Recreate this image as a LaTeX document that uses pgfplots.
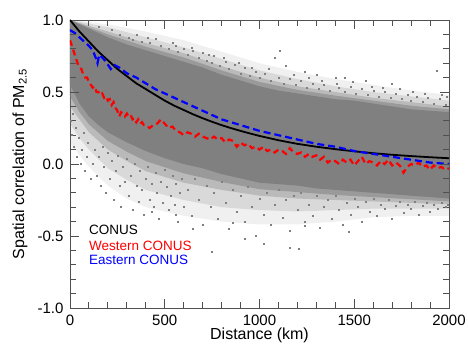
\documentclass[border=0pt]{standalone}
\usepackage{fontspec}
\setmainfont{Liberation Sans}
\usepackage{pgfplots}
\pgfplotsset{compat=1.18}
\definecolor{cloud}{RGB}{128,128,128}
\definecolor{framegray}{RGB}{80,80,80}
\begin{document}
\begin{tikzpicture}
\begin{axis}[
  at={(0,0)}, anchor=south west,
  width=379pt, height=288pt, scale only axis,
  xmin=0, xmax=2000, ymin=-1, ymax=1,
  xtick={0,500,1000,1500,2000},
  ytick={-1,-0.5,0,0.5,1},
  major tick length=0pt,
  axis line style={draw=framegray, line width=0.9pt},
  /pgf/number format/assume math mode=true,
  yticklabel={\pgfmathprintnumber[fixed,fixed zerofill,precision=1]{\tick}},
  xticklabel={\pgfmathprintnumber[fixed,1000 sep={}]{\tick}},
  tick label style={font=\fontsize{15}{17}\selectfont},
  xticklabel style={yshift=-3pt},
  yticklabel style={xshift=-3pt},
  xlabel={Distance (km)},
  ylabel={Spatial correlation of PM\textsubscript{2.5}},
  label style={font=\fontsize{16}{18}\selectfont},
  xlabel style={at={(axis description cs:0.5,-0.094)}, anchor=center},
  ylabel style={at={(axis description cs:-0.132,0.5)}, anchor=center},
]
% outermost sparse band
\addplot[draw=none, fill=cloud, fill opacity=0.12] coordinates {
(0,1.0) (200,0.97) (400,0.92) (600,0.86) (800,0.78) (1000,0.70) (1200,0.64) (1400,0.59) (1600,0.55) (1800,0.51) (2000,0.48)
(2000,-0.36) (1800,-0.36) (1600,-0.37) (1400,-0.40) (1200,-0.42) (1000,-0.42) (800,-0.40) (600,-0.36) (400,-0.30) (300,-0.24) (200,-0.15) (100,-0.02) (50,0.06) (0,0.15)
} -- cycle;
% second band
\addplot[draw=none, fill=cloud, fill opacity=0.2] coordinates {
(0,1.0) (200,0.95) (400,0.88) (600,0.81) (800,0.73) (1000,0.65) (1200,0.59) (1400,0.54) (1600,0.50) (1800,0.47) (2000,0.44)
(2000,-0.31) (1800,-0.31) (1600,-0.31) (1400,-0.32) (1200,-0.33) (1000,-0.32) (800,-0.30) (600,-0.25) (400,-0.18) (300,-0.11) (200,-0.03) (100,0.10) (50,0.18) (0,0.28)
} -- cycle;
% third band
\addplot[draw=none, fill=cloud, fill opacity=0.35] coordinates {
(0,1.0) (200,0.92) (400,0.84) (600,0.77) (800,0.68) (1000,0.60) (1200,0.54) (1400,0.50) (1600,0.46) (1800,0.43) (2000,0.40)
(2000,-0.28) (1800,-0.27) (1600,-0.26) (1400,-0.25) (1200,-0.24) (1000,-0.22) (800,-0.18) (600,-0.13) (400,-0.05) (300,0.02) (200,0.10) (100,0.22) (50,0.31) (0,0.40)
} -- cycle;
% fourth band
\addplot[draw=none, fill=cloud, fill opacity=0.55] coordinates {
(0,1.0) (200,0.90) (400,0.815) (600,0.74) (800,0.65) (1000,0.57) (1200,0.515) (1400,0.475) (1600,0.44) (1800,0.405) (2000,0.38)
(2000,-0.26) (1800,-0.245) (1600,-0.23) (1400,-0.215) (1200,-0.195) (1000,-0.175) (800,-0.125) (600,-0.065) (400,0.02) (300,0.085) (200,0.16) (100,0.275) (50,0.36) (0,0.47)
} -- cycle;
% dense core
\addplot[draw=none, fill=cloud] coordinates {
(0,1.0) (50,0.97) (100,0.94) (200,0.88) (300,0.83) (400,0.79) (500,0.75) (600,0.71) (700,0.67) (800,0.62) (900,0.58) (1000,0.54) (1100,0.51) (1200,0.49) (1300,0.47) (1400,0.45) (1500,0.44) (1600,0.42) (1700,0.40) (1800,0.38) (1900,0.37) (2000,0.36)
(2000,-0.24) (1900,-0.23) (1800,-0.22) (1700,-0.21) (1600,-0.20) (1500,-0.19) (1400,-0.18) (1300,-0.17) (1200,-0.15) (1100,-0.14) (1000,-0.13) (900,-0.10) (800,-0.07) (700,-0.03) (600,0.0) (500,0.04) (400,0.09) (300,0.15) (200,0.22) (150,0.27) (100,0.33) (50,0.42) (20,0.50) (0,0.55)
} -- cycle;
% scattered points
\addplot[only marks, mark=square*, mark size=0.5pt, color=cloud] coordinates {
(150,0.95) (220,0.93) (260,0.90) (310,0.88) (350,0.90) (380,0.85) (420,0.84) (450,0.87) (480,0.82) (520,0.80) (540,0.84) (570,0.78) (600,0.80) (620,0.76) (650,0.79) (680,0.74) (700,0.77) (720,0.72) (750,0.70) (760,0.75) (790,0.68) (820,0.71) (840,0.66) (870,0.69) (900,0.63) (920,0.67) (950,0.61) (980,0.64) (1000,0.60) (1030,0.63) (1060,0.58) (1082,0.74) (1108,0.79) (1100,0.60) (1130,0.56) (1160,0.59) (1190,0.55) (1220,0.58) (1250,0.53) (1280,0.56) (1310,0.52) (1340,0.55) (1370,0.51) (1400,0.60) (1420,0.53) (1450,0.50) (1480,0.54) (1510,0.49) (1540,0.52) (1570,0.48) (1600,0.51) (1630,0.47) (1660,0.50) (1690,0.46) (1720,0.49) (1750,0.45) (1780,0.48) (1800,0.44) (1830,0.47) (1860,0.43) (1890,0.46) (1920,0.42) (1950,0.45) (1980,0.41) (1990,0.47) (1240,0.64) (1300,0.62) (1937,0.65) (1140,0.68) (1450,0.60) (1700,0.56) (1560,0.58)
(330,0.86) (410,0.88) (560,0.82) (640,0.81) (730,0.76) (810,0.74) (890,0.70) (960,0.67) (1050,0.66) (1180,0.62) (1260,0.60) (1330,0.58) (1410,0.56) (1490,0.57) (1590,0.54) (1650,0.53) (1740,0.52) (1810,0.50) (1870,0.49) (1960,0.48)
(5,0.30) (10,0.20) (15,0.35) (20,0.12) (30,0.25) (35,0.05) (45,0.18) (55,0.00) (60,0.10) (70,0.22) (80,-0.05) (90,0.05) (95,0.15)
(110,-0.10) (120,0.00) (130,0.10) (140,-0.08) (150,0.05) (160,-0.15) (170,0.12) (180,-0.02) (190,-0.20) (200,0.08) (210,-0.10) (220,0.02) (230,-0.25) (240,-0.05) (250,0.06) (260,-0.15) (270,-0.30) (280,-0.02) (290,-0.12) (300,0.04)
(310,-0.22) (320,-0.08) (330,-0.32) (340,0.00) (350,-0.15) (360,-0.26) (370,-0.05) (380,-0.18) (390,-0.35) (400,-0.10) (410,-0.02) (420,-0.25) (430,-0.14) (440,-0.30) (450,-0.06) (460,-0.20) (470,-0.38) (480,-0.12) (490,-0.27) (500,-0.04) (510,-0.16) (520,-0.32) (530,-0.22) (540,-0.08) (550,-0.28) (560,-0.14) (570,-0.40) (580,-0.20) (590,-0.10) (600,-0.30)
(620,-0.18) (640,-0.36) (660,-0.10) (680,-0.25) (700,-0.42) (720,-0.15) (740,-0.30) (760,-0.20) (780,-0.38) (800,-0.12) (820,-0.27) (840,-0.45) (860,-0.18) (880,-0.33) (900,-0.22) (920,-0.40) (940,-0.16) (960,-0.30) (980,-0.50) (1000,-0.24)
(1020,-0.35) (1040,-0.20) (1060,-0.42) (1080,-0.28) (1100,-0.18) (1120,-0.37) (1140,-0.25) (1160,-0.46) (1180,-0.22) (1200,-0.32) (1208,-0.59) (1220,-0.20) (1240,-0.40) (1260,-0.28) (1280,-0.36) (1300,-0.22) (1320,-0.44) (1340,-0.30) (1360,-0.25) (1380,-0.38)
(1400,-0.22) (1420,-0.32) (1440,-0.42) (1460,-0.27) (1480,-0.35) (1500,-0.24) (1520,-0.30) (1540,-0.40) (1560,-0.26) (1580,-0.33) (1600,-0.24) (1620,-0.36) (1640,-0.28) (1660,-0.31) (1680,-0.25) (1700,-0.38) (1720,-0.29) (1740,-0.26) (1760,-0.34) (1780,-0.28) (1800,-0.31) (1820,-0.26) (1840,-0.35) (1860,-0.29) (1880,-0.27) (1900,-0.33) (1920,-0.28) (1940,-0.31) (1960,-0.27) (1980,-0.30) (1995,-0.28)
(923,-0.52) (750,-0.61) (1020,-0.55) (1160,-0.58) (1240,-0.43) (1473,-0.47) (650,-0.45) (560,-0.35) (430,-0.33) (860,-0.41)
};
% CONUS
\addplot[black, line width=1.8pt] coordinates {
(0,1.0) (50,0.92) (100,0.85) (150,0.78) (200,0.72) (250,0.66) (300,0.61) (350,0.56) (400,0.52) (450,0.48) (500,0.44) (550,0.405) (600,0.375) (650,0.345) (700,0.318) (750,0.293) (800,0.27) (850,0.249) (900,0.23) (950,0.212) (1000,0.195) (1100,0.165) (1200,0.14) (1300,0.12) (1400,0.103) (1500,0.088) (1600,0.075) (1700,0.064) (1800,0.055) (1900,0.047) (2000,0.04)
};
% Western CONUS
\addplot[red, line width=2.2pt, dash pattern=on 6pt off 4pt] coordinates {
(0,0.86) (10,0.82) (20,0.78) (30,0.74) (40,0.70) (50,0.67) (60,0.66) (70,0.62) (80,0.60) (90,0.60) (100,0.57) (110,0.55) (120,0.53) (130,0.54) (140,0.50) (150,0.50) (160,0.48) (170,0.49) (180,0.46) (190,0.47) (200,0.44) (210,0.45) (220,0.41) (230,0.43) (240,0.39) (250,0.37) (260,0.33) (270,0.36) (280,0.35) (290,0.33) (300,0.35) (310,0.33) (320,0.34) (330,0.31) (340,0.32) (350,0.29) (360,0.31) (370,0.28) (380,0.29) (390,0.27) (400,0.27) (420,0.25) (440,0.27) (460,0.28) (480,0.31) (500,0.28) (520,0.25) (540,0.26) (560,0.23) (580,0.22) (600,0.20) (620,0.22) (640,0.21) (660,0.19) (680,0.21) (700,0.19) (720,0.18) (740,0.17) (760,0.19) (780,0.17) (800,0.18) (820,0.15) (840,0.17) (860,0.16) (880,0.12) (900,0.15) (920,0.13) (940,0.14) (960,0.11) (980,0.12) (1000,0.10)
(1020,0.12) (1040,0.09) (1060,0.10) (1080,0.08) (1100,0.10) (1120,0.09) (1140,0.07) (1160,0.11) (1180,0.08) (1200,0.07) (1220,0.08) (1240,0.05) (1260,0.07) (1280,0.05) (1300,0.06) (1320,0.03) (1340,0.05) (1360,0.01) (1380,0.03) (1400,0.02) (1420,0.00) (1440,0.03) (1460,0.01) (1480,0.03) (1500,-0.01) (1520,0.02) (1540,0.05) (1560,0.00) (1580,0.02) (1600,0.01) (1620,-0.01) (1640,0.02) (1660,0.00) (1680,0.03) (1700,-0.01) (1720,0.01) (1740,-0.01) (1760,-0.06) (1780,-0.02) (1800,0.00) (1820,-0.01) (1840,0.01) (1860,-0.02) (1880,-0.01) (1900,-0.04) (1920,-0.01) (1940,-0.03) (1960,-0.02) (1980,-0.04) (2000,-0.03)
};
% Eastern CONUS
\addplot[blue, line width=2.2pt, dash pattern=on 7pt off 4pt] coordinates {
(0,0.93) (25,0.91) (50,0.88) (75,0.85) (100,0.82) (120,0.79) (135,0.74) (145,0.70) (155,0.76) (170,0.74) (190,0.71) (205,0.68) (215,0.66) (230,0.69) (260,0.67) (300,0.63) (350,0.60) (400,0.56) (450,0.52) (500,0.49) (550,0.46) (600,0.43) (650,0.40) (700,0.37) (750,0.34) (800,0.31) (850,0.29) (900,0.27) (950,0.25) (1000,0.23) (1100,0.20) (1200,0.17) (1300,0.14) (1400,0.12) (1500,0.09) (1600,0.07) (1700,0.05) (1800,0.03) (1900,0.01) (2000,0.00)
};
% tick marks, bottom (drawn as error bars from the axis edge)
\addplot[draw=none, no markers, error bars/.cd, y dir=plus, y explicit, error mark=none, error bar style={draw=framegray, line width=0.9pt, solid}] coordinates {
(100,-1) +- (0,0.042) (200,-1) +- (0,0.042) (300,-1) +- (0,0.042) (400,-1) +- (0,0.042) (500,-1) +- (0,0.0625)
(600,-1) +- (0,0.042) (700,-1) +- (0,0.042) (800,-1) +- (0,0.042) (900,-1) +- (0,0.042) (1000,-1) +- (0,0.0625)
(1100,-1) +- (0,0.042) (1200,-1) +- (0,0.042) (1300,-1) +- (0,0.042) (1400,-1) +- (0,0.042) (1500,-1) +- (0,0.0625)
(1600,-1) +- (0,0.042) (1700,-1) +- (0,0.042) (1800,-1) +- (0,0.042) (1900,-1) +- (0,0.042)
};
% tick marks, top
\addplot[draw=none, no markers, error bars/.cd, y dir=minus, y explicit, error mark=none, error bar style={draw=framegray, line width=0.9pt, solid}] coordinates {
(100,1) +- (0,0.042) (200,1) +- (0,0.042) (300,1) +- (0,0.042) (400,1) +- (0,0.042) (500,1) +- (0,0.0625)
(600,1) +- (0,0.042) (700,1) +- (0,0.042) (800,1) +- (0,0.042) (900,1) +- (0,0.042) (1000,1) +- (0,0.0625)
(1100,1) +- (0,0.042) (1200,1) +- (0,0.042) (1300,1) +- (0,0.042) (1400,1) +- (0,0.042) (1500,1) +- (0,0.0625)
(1600,1) +- (0,0.042) (1700,1) +- (0,0.042) (1800,1) +- (0,0.042) (1900,1) +- (0,0.042)
};
% tick marks, left
\addplot[draw=none, no markers, error bars/.cd, x dir=plus, x explicit, error mark=none, error bar style={draw=framegray, line width=0.9pt, solid}] coordinates {
(0,-0.9) +- (32,0) (0,-0.8) +- (32,0) (0,-0.7) +- (32,0) (0,-0.6) +- (32,0) (0,-0.5) +- (48,0)
(0,-0.4) +- (32,0) (0,-0.3) +- (32,0) (0,-0.2) +- (32,0) (0,-0.1) +- (32,0) (0,0) +- (48,0)
(0,0.1) +- (32,0) (0,0.2) +- (32,0) (0,0.3) +- (32,0) (0,0.4) +- (32,0) (0,0.5) +- (48,0)
(0,0.6) +- (32,0) (0,0.7) +- (32,0) (0,0.8) +- (32,0) (0,0.9) +- (32,0)
};
% tick marks, right
\addplot[draw=none, no markers, error bars/.cd, x dir=minus, x explicit, error mark=none, error bar style={draw=framegray, line width=0.9pt, solid}] coordinates {
(2000,-0.9) +- (32,0) (2000,-0.8) +- (32,0) (2000,-0.7) +- (32,0) (2000,-0.6) +- (32,0) (2000,-0.5) +- (48,0)
(2000,-0.4) +- (32,0) (2000,-0.3) +- (32,0) (2000,-0.2) +- (32,0) (2000,-0.1) +- (32,0) (2000,0) +- (48,0)
(2000,0.1) +- (32,0) (2000,0.2) +- (32,0) (2000,0.3) +- (32,0) (2000,0.4) +- (32,0) (2000,0.5) +- (48,0)
(2000,0.6) +- (32,0) (2000,0.7) +- (32,0) (2000,0.8) +- (32,0) (2000,0.9) +- (32,0)
};
\node[anchor=west, inner sep=0pt, text=black, font=\fontsize{13.5}{15}\selectfont] at (rel axis cs:0.05,0.271) {CONUS};
\node[anchor=west, inner sep=0pt, text=red, font=\fontsize{13.5}{15}\selectfont] at (rel axis cs:0.05,0.217) {Western CONUS};
\node[anchor=west, inner sep=0pt, text=blue, font=\fontsize{13.5}{15}\selectfont] at (rel axis cs:0.05,0.167) {Eastern CONUS};
\end{axis}
\pgfresetboundingbox
\path[use as bounding box] (-70pt,-37pt) rectangle (398pt,308pt);
\end{tikzpicture}
\end{document}
